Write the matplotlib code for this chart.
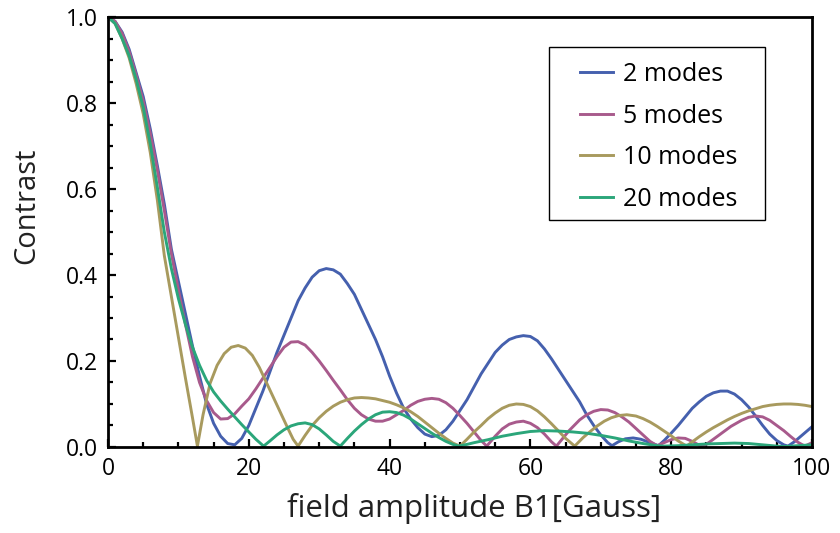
import matplotlib.pyplot as plt
from matplotlib.patches import Rectangle
from matplotlib.ticker import MultipleLocator, FormatStrFormatter

plt.rcParams['font.family'] = ['Open Sans', 'DejaVu Sans']

# values
x_2 = [0, 1, 2, 3, 4, 5, 6, 7, 8, 9, 10, 11, 12, 13, 14, 15, 16, 17, 18, 19, 20,
       21, 22, 23, 24, 25, 26, 27, 28, 29, 30, 31, 32, 33, 34, 35, 36, 37, 38, 39, 40,
       41, 42, 43, 44, 45, 46, 47, 48, 49, 50, 51, 52, 53, 54, 55, 56, 57, 58, 59, 60,
       61, 62, 63, 64, 65, 66, 67, 68, 69, 70, 71, 71.6, 72.5, 73.5, 74.6, 75.7, 77, 78.2, 79, 80,
       81, 82, 83, 84, 85, 86, 87, 88, 89, 90, 91, 92, 93, 94, 95, 96, 96.6, 97.5, 98.5, 99.5, 100]
c_2 = [1.0, 0.99, 0.965, 0.925, 0.87, 0.815, 0.74, 0.655, 0.565, 0.46, 0.385, 0.31, 0.235, 0.165, 0.1, 0.055, 0.025, 0.008, 0.005, 0.02, 0.05,
       0.09, 0.13, 0.175, 0.22, 0.26, 0.3, 0.34, 0.37, 0.395, 0.41, 0.415, 0.412, 0.402, 0.38, 0.355, 0.32, 0.285, 0.25, 0.21, 0.165,
       0.125, 0.09, 0.065, 0.045, 0.03, 0.024, 0.027, 0.04, 0.06, 0.085, 0.11, 0.14, 0.17, 0.195, 0.22, 0.237, 0.25, 0.256, 0.259, 0.257,
       0.247, 0.228, 0.205, 0.18, 0.155, 0.13, 0.105, 0.075, 0.05, 0.028, 0.01, 0.003, 0.012, 0.019, 0.021, 0.018, 0.01, 0.003, 0.015, 0.032,
       0.05, 0.07, 0.09, 0.105, 0.118, 0.126, 0.13, 0.13, 0.123, 0.11, 0.093, 0.072, 0.05, 0.03, 0.015, 0.005, 0.002, 0.012, 0.026, 0.04, 0.047]

x_5 = [0, 1, 2, 3, 4, 5, 6, 7, 8, 9, 10, 11, 12, 13, 14, 15, 16, 17, 18, 19, 20,
       21, 22, 23, 24, 25, 26, 27, 28, 29, 30, 31, 32, 33, 34, 35, 36, 37, 38, 39, 40,
       41, 42, 43, 44, 45, 46, 47, 48, 49, 50, 51, 52, 53, 53.8, 55, 56, 57, 58, 59, 60,
       61, 62, 63, 63.7, 64.5, 65.5, 67, 68, 69, 70, 71, 72, 73, 74, 75, 76, 77, 78, 79, 80,
       81, 82, 83, 84, 84.6, 85.5, 87, 88.5, 90, 91, 92, 93, 94, 95, 96, 97, 98, 99, 100]
c_5 = [1.0, 0.99, 0.962, 0.92, 0.865, 0.805, 0.73, 0.645, 0.55, 0.45, 0.365, 0.285, 0.21, 0.15, 0.108, 0.08, 0.065, 0.066, 0.077, 0.095, 0.112,
       0.135, 0.16, 0.185, 0.21, 0.232, 0.244, 0.245, 0.237, 0.22, 0.2, 0.178, 0.155, 0.133, 0.11, 0.09, 0.075, 0.065, 0.06, 0.06, 0.065,
       0.075, 0.085, 0.097, 0.106, 0.111, 0.113, 0.111, 0.103, 0.09, 0.073, 0.055, 0.035, 0.015, 0.002, 0.025, 0.042, 0.053, 0.058, 0.06, 0.055,
       0.045, 0.03, 0.012, 0.002, 0.018, 0.038, 0.063, 0.075, 0.083, 0.087, 0.086, 0.08, 0.07, 0.058, 0.043, 0.028, 0.013, 0.003, 0.01, 0.017,
       0.021, 0.02, 0.013, 0.004, 0.002, 0.012, 0.03, 0.048, 0.062, 0.069, 0.072, 0.07, 0.062, 0.05, 0.038, 0.024, 0.011, 0.002, 0.01]

x_10 = [0, 1, 2, 3, 4, 5, 6, 7, 8, 9, 10, 11, 12, 12.7, 13.5, 14.5, 15.5, 16.5, 17.5, 18.5, 19.5,
        20.5, 21.5, 22.5, 23.5, 24.5, 25.5, 26.3, 27, 28, 29, 30, 31, 32, 33, 34, 35, 36, 37, 38, 39, 40,
        41, 42, 43, 44, 45, 46, 47, 48, 49, 50, 51, 52, 53, 54, 55, 56, 57, 58, 59, 60,
        61, 62, 63, 64, 65, 66.3, 67.5, 68.5, 69.5, 70.5, 71.5, 72.5, 73.7, 75, 76, 77, 78, 79, 80,
        81, 82.2, 83, 84, 85, 86, 87, 88, 89, 90, 91, 92, 93, 94, 95, 96, 97, 98, 99, 100]
c_10 = [1.0, 0.985, 0.95, 0.905, 0.845, 0.775, 0.685, 0.575, 0.445, 0.35, 0.255, 0.16, 0.068, 0.002, 0.075, 0.148, 0.19, 0.217, 0.232, 0.236, 0.23,
        0.213, 0.185, 0.15, 0.115, 0.08, 0.045, 0.018, 0.002, 0.027, 0.05, 0.068, 0.083, 0.095, 0.104, 0.11, 0.114, 0.115, 0.114, 0.112, 0.108, 0.104,
        0.098, 0.091, 0.082, 0.071, 0.058, 0.045, 0.032, 0.02, 0.009, 0.002, 0.018, 0.035, 0.05, 0.066, 0.079, 0.09, 0.097, 0.1, 0.099, 0.094,
        0.084, 0.07, 0.054, 0.037, 0.02, 0.002, 0.022, 0.036, 0.049, 0.06, 0.068, 0.073, 0.075, 0.072, 0.066, 0.058, 0.048, 0.037, 0.026,
        0.014, 0.002, 0.012, 0.024, 0.035, 0.045, 0.054, 0.063, 0.071, 0.078, 0.084, 0.089, 0.094, 0.097, 0.099, 0.1, 0.1, 0.099, 0.097, 0.094]

x_20 = [0, 1, 2, 3, 4, 5, 6, 7, 8, 9, 10, 11, 12, 13, 14, 15, 16, 17, 18, 19, 20,
        21, 22.1, 23, 24, 25, 26, 27, 28, 29, 30, 31, 32, 33, 34, 35, 36, 37, 38, 39, 40,
        41, 42, 43, 44, 45, 46, 47, 48, 49, 49.8, 51, 52, 54, 56, 58, 60,
        62, 64, 66, 68, 70, 72, 74, 76, 78, 79,
        81, 83, 85, 87, 89, 91, 93, 95, 96, 98, 100]
c_20 = [1.0, 0.985, 0.95, 0.91, 0.855, 0.79, 0.705, 0.605, 0.5, 0.415, 0.345, 0.285, 0.232, 0.19, 0.155, 0.128, 0.107, 0.088, 0.07, 0.052, 0.035,
        0.018, 0.002, 0.014, 0.028, 0.04, 0.049, 0.054, 0.056, 0.052, 0.042, 0.028, 0.013, 0.002, 0.02, 0.037, 0.052, 0.065, 0.075, 0.081, 0.082,
        0.08, 0.074, 0.065, 0.054, 0.043, 0.032, 0.022, 0.013, 0.006, 0.002, 0.006, 0.01, 0.017, 0.025, 0.031, 0.036,
        0.038, 0.037, 0.035, 0.032, 0.027, 0.021, 0.014, 0.008, 0.003, 0.002,
        0.003, 0.005, 0.007, 0.008, 0.009, 0.008, 0.005, 0.002, 0.001, 0.003, 0.005]

labels = ['2 modes', '5 modes', '10 modes', '20 modes']
colors = ['#4560AE', '#A85A8C', '#A89A5E', '#2BA67A']

fig = plt.figure(figsize=(8.4, 5.33), dpi=100)
ax = fig.add_axes([0.1286, 0.1614, 0.838, 0.8066])

series = [(x_2, c_2), (x_5, c_5), (x_10, c_10), (x_20, c_20)]
for (xs, ys), lab, col in zip(series, labels, colors):
    ax.plot(xs, ys, color=col, lw=2.1, label=lab)

ax.set_xlim(0, 100)
ax.set_ylim(0, 1.0)
ax.xaxis.set_major_locator(MultipleLocator(20))
ax.xaxis.set_minor_locator(MultipleLocator(5))
ax.yaxis.set_major_locator(MultipleLocator(0.2))
ax.yaxis.set_minor_locator(MultipleLocator(0.05))
ax.yaxis.set_major_formatter(FormatStrFormatter('%.1f'))

for s in ax.spines.values():
    s.set_linewidth(2.0)
ax.tick_params(which='both', direction='in', top=False, right=False, width=1.6)
ax.tick_params(which='major', length=6, labelsize=16.5, pad=7)
ax.tick_params(which='minor', length=3.5)

ax.set_xlabel('field amplitude B1[Gauss]', fontsize=22.5, color='#222222')
ax.set_ylabel('Contrast', fontsize=21, color='#222222')
ax.xaxis.set_label_coords(0.52, -0.108)
ax.yaxis.set_label_coords(-0.095, 0.56)

# legend box: frame drawn separately so the side padding can be wider than the top
ax.add_patch(Rectangle((0.6264, 0.528), 0.3068, 0.4023, transform=ax.transAxes,
                       facecolor='white', edgecolor='black', lw=1.0, zorder=4))
leg = ax.legend(loc='upper left', bbox_to_anchor=(0.6705, 0.895), fontsize=18,
                frameon=False, borderpad=0, labelspacing=0.66,
                handlelength=1.3, handletextpad=0.42, borderaxespad=0)
leg.set_zorder(5)

fig.savefig('out.png', dpi=100)
